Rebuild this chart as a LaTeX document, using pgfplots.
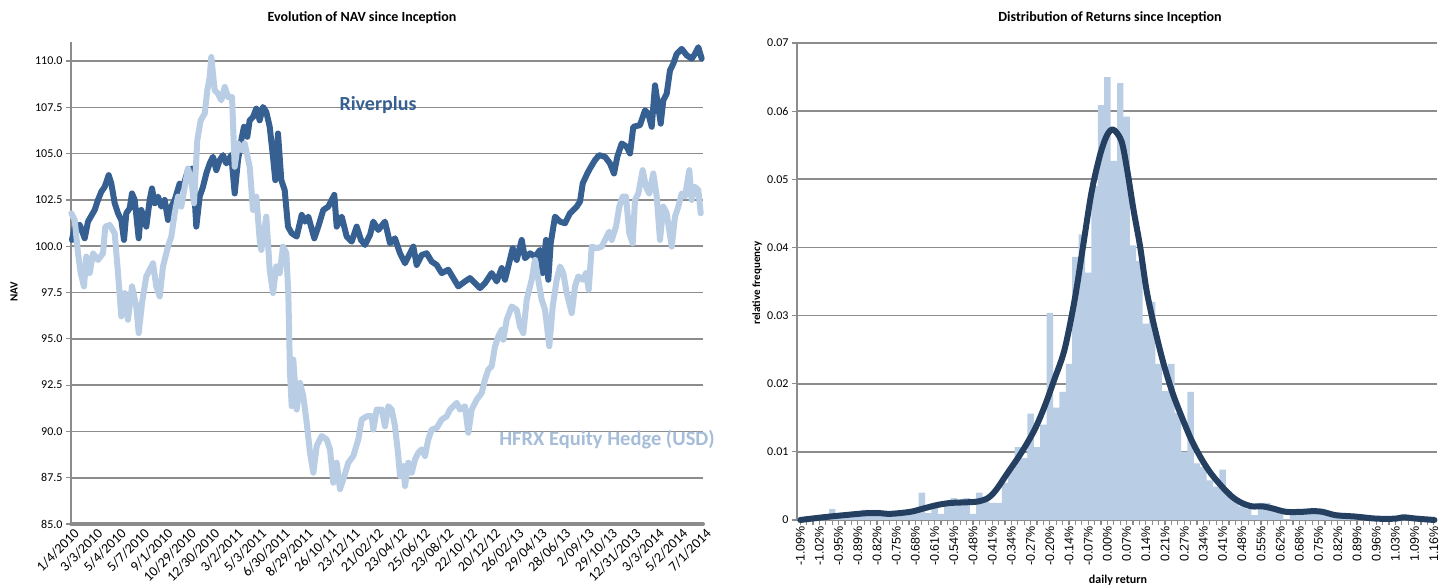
\documentclass[border=0pt]{standalone}
\usepackage{fontspec}
\setmainfont{Carlito}
\newfontfamily\arialf{Liberation Sans}
\usepackage{pgfplots}
\pgfplotsset{compat=1.18}
\definecolor{river}{HTML}{376092}
\definecolor{hfrx}{HTML}{B9CDE5}
\definecolor{curvec}{HTML}{243F60}
\definecolor{gridc}{HTML}{8C8C8C}

\pgfplotstableread{
x y
1 100.34
3.7 101.06
8.7 101.15
13.7 100.43
17 101.33
23.7 101.96
27 102.50
30.3 102.94
33.7 103.21
37.7 103.84
40.3 103.39
43.7 102.32
47 101.78
50.3 101.42
53 100.34
55.3 101.78
58.7 102.05
61 102.85
63.7 102.50
67.7 100.43
70.3 101.96
75.3 101.06
78.7 102.50
81 103.12
83.7 102.32
87 102.68
90.3 102.14
93.7 102.50
97 101.42
100.3 102.14
103.7 102.50
108.7 103.39
112 103.21
117 104.11
122 104.20
125.3 101.06
128.7 102.68
132 103.21
135.3 103.93
138.7 104.47
142 104.83
145.3 104.11
148.7 104.65
152 104.92
155.3 104.47
160.3 104.92
163.7 102.85
167 104.65
170.3 105.73
173 106.45
176.3 105.91
178.7 106.80
182 106.98
185.3 107.43
188.7 106.80
192 107.52
195.3 107.25
198.7 106.45
202 104.83
204.3 103.57
207 106.09
210.3 103.57
213.7 103.03
217 101.06
220.7 100.70
225.7 100.52
230.7 101.69
234 101.33
237.3 101.60
243.3 100.43
247.3 101.06
252.3 101.96
257.3 102.14
263.3 102.77
265.7 101.06
270.7 101.60
275.7 100.52
280.7 100.25
285.7 101.06
290 100.34
294 100.07
299 100.61
302.3 101.33
307.3 100.88
314 101.33
319 100.16
324 100.43
329 99.62
334 99.08
339 99.62
342.3 99.98
345.7 98.99
350.7 99.53
355.7 99.62
360.7 99.17
365.7 98.99
370.7 98.55
377.3 98.73
382.3 98.28
387.3 97.83
394 98.10
399 98.28
404 98.01
409 97.74
414 98.01
420.7 98.55
425.7 98.10
430.7 98.82
434 98.19
437.3 98.91
441.7 99.89
445.7 99.26
450.7 100.34
454 99.35
459 99.62
464 99.44
469 99.80
471.7 98.55
475 100.34
477.3 98.19
479.7 100.16
484 101.60
489 101.33
494 101.24
499 101.78
505.7 102.14
509 102.41
511.7 103.39
516.3 103.93
519 104.20
524 104.65
528 104.92
534 104.83
539 104.47
543 103.93
546.3 104.83
550.7 105.55
555.7 105.37
559 105.01
562.3 106.45
569 106.54
574 107.34
577.3 107.16
580.7 106.45
584 108.69
587.3 107.52
589.7 106.62
592.3 107.88
595.7 108.24
599 109.50
602.3 109.86
605.7 110.39
610.7 110.66
615.7 110.31
620.7 110.13
624 110.39
627.3 110.75
630.7 110.13
}\riverdata

\pgfplotstableread{
x y
0.3 101.78
3.7 101.42
7 99.62
9.7 98.55
13 97.83
15.3 99.44
18.7 98.55
22 99.62
27 99.26
32 99.62
34.3 101.06
38.7 101.15
43.7 100.70
47 98.55
50.3 96.21
53.7 97.47
57 96.03
61 97.83
65.3 96.75
67.7 95.31
71 96.93
75.3 98.37
78.7 98.73
82 99.08
85.3 97.83
88.7 97.29
92 98.91
97 99.98
100.3 100.52
103.7 101.78
107 102.68
110.3 102.14
113.7 103.21
117 104.20
120.3 103.57
123 102.32
126.3 105.73
129.7 106.80
133.7 107.16
136.3 108.42
138.7 109.14
140.3 110.22
143.7 108.42
147 108.24
150.3 107.88
153.7 108.60
157 108.06
161 108.06
163.7 104.29
167 105.55
170.3 105.19
173.7 105.55
178.7 104.29
182 101.96
185.3 102.68
188.7 100.34
190.3 99.80
195.3 101.60
198.7 98.73
202 97.47
205.3 98.91
208.7 98.55
212 99.98
215.3 99.62
217.3 97.50
219 93.16
220.7 91.36
222.3 93.88
225.7 91.18
229 92.62
232.3 91.90
235.7 90.46
239 88.85
242.3 87.77
245.7 89.21
250.7 89.75
255.7 89.57
259 89.03
262.3 87.23
265.7 88.31
269 86.88
272.3 87.41
277.3 88.31
282.3 88.67
287.3 89.57
290.7 90.64
295.7 90.82
300.7 90.82
302.3 90.10
305.7 91.18
310.7 91.18
314 90.28
317.3 91.36
320.7 91.18
324 90.28
327.3 88.67
329 87.59
332.3 88.13
334 87.05
337.3 88.31
340.7 87.77
344 88.49
347.3 88.85
350.7 89.03
354 88.67
357.3 89.57
360.7 90.10
365.7 90.19
370.7 90.64
375.7 90.82
379 91.18
382.3 91.36
385.7 91.54
389 91.18
394 91.36
397.3 89.93
400.7 91.18
405.7 91.72
410.7 92.08
414 92.80
417.3 93.34
420.7 93.52
424 94.60
427.3 95.13
430.7 95.49
432.3 94.95
435.7 96.03
440.7 96.75
445.7 96.57
449 95.67
452.3 95.31
455.7 97.11
460.7 98.19
464 99.26
467.3 98.19
470.7 97.11
474 96.57
478.3 94.60
481.7 96.75
485.7 98.19
489 98.91
492.3 98.55
495.7 97.47
500.7 96.39
504 97.83
507.3 98.37
511.7 98.19
515 98.55
517.7 97.65
520.7 99.98
525.7 99.89
530.7 99.98
535.7 100.52
538.3 100.79
540.7 100.34
545 101.06
548.3 102.14
551.7 102.68
555 102.68
558.3 100.70
561.7 100.16
564 102.50
567.3 102.85
571.7 104.11
575 103.21
578.3 102.85
582.3 103.93
585.7 102.68
589 100.34
592.3 102.14
595.7 101.78
600.7 99.98
604 101.60
607.3 102.14
610.7 102.85
614 102.68
618.3 104.11
620.7 102.50
624 103.21
627.3 103.03
629.7 101.78
}\hfrxdata

\pgfplotstableread{
x y
0 0.0002
1 0.0003
2 0.0005
3 0.0007
4 0.0008
5 0.0016
6 0.0008
7 0.0008
8 0.0010
9 0.0010
10 0.0015
11 0.0015
12 0.0015
13 0.0010
14 0.0005
15 0.0010
16 0.0012
17 0.0012
18 0.0015
19 0.0040
20 0.0010
21 0.0024
22 0.0009
23 0.0025
24 0.0032
25 0.0030
26 0.0032
27 0.0009
28 0.0040
29 0.0027
30 0.0025
31 0.0025
32 0.0055
33 0.0075
34 0.0107
35 0.0091
36 0.0156
37 0.0107
38 0.0140
39 0.0304
40 0.0165
41 0.0188
42 0.0229
43 0.0386
44 0.0419
45 0.0363
46 0.0490
47 0.0609
48 0.0650
49 0.0527
50 0.0641
51 0.0592
52 0.0403
53 0.0380
54 0.0288
55 0.0320
56 0.0229
57 0.0189
58 0.0229
59 0.0157
60 0.0100
61 0.0188
62 0.0083
63 0.0078
64 0.0058
65 0.0049
66 0.0074
67 0.0042
68 0.0030
69 0.0020
70 0.0017
71 0.0007
72 0.0025
73 0.0025
74 0.0017
75 0.0017
76 0.0001
77 0.0010
78 0.0010
79 0.0015
80 0.0015
81 0.0012
82 0.0010
83 0.0005
84 0.0005
85 0.0005
86 0.0004
87 0.0004
88 0.0003
89 0.0003
90 0.0002
91 0.0002
92 0.0002
93 0.0002
94 0.0007
95 0.0002
96 0.0002
97 0.0002
98 0.0001
99 0.0001
}\histdata

\pgfplotstableread{
x y
0 0
3.6 0.0004
6.8 0.0007
10.4 0.0010
12.5 0.0010
14.1 0.0009
17.2 0.0012
19.3 0.0017
21.4 0.0022
23.5 0.0025
26.1 0.0026
27.7 0.0027
29.3 0.0032
30.6 0.0044
32.4 0.0069
34.5 0.0098
36.6 0.0132
38.2 0.0167
39.7 0.0206
41.3 0.0250
42.9 0.0324
44.2 0.0402
45.5 0.0480
46.8 0.0534
47.9 0.0564
48.9 0.0573
50.2 0.0556
51.1 0.0513
52.1 0.0454
53.1 0.0402
54.1 0.0338
55.2 0.0289
56.7 0.0232
58.2 0.0186
59.8 0.0147
61.2 0.0116
62.8 0.0088
64.2 0.0068
65.9 0.0049
67.5 0.0034
69.0 0.0025
70.6 0.0020
72.2 0.0020
73.8 0.0017
75.9 0.0012
78.5 0.0012
80.0 0.0013
81.6 0.0012
83.7 0.0007
86.8 0.0005
90.0 0.0002
93.1 0.0002
94.2 0.0004
96.3 0.0002
99.1 0
}\curvedata

\begin{document}
\begin{tikzpicture}[x=1pt,y=1pt]
\path[use as bounding box] (0,0) rectangle (1443,588);

% ---------------- left chart ----------------
\begin{axis}[
  at={(71pt,64pt)}, anchor=south west, scale only axis,
  width=632pt, height=482pt,
  xmin=0, xmax=632, ymin=85, ymax=111.03,
  separate axis lines,
  axis x line*=bottom, axis y line*=left,
  x axis line style={-, draw=gridc, line width=4pt, line cap=round},
  y axis line style={-, draw=gridc, line width=1.5pt},
  ymajorgrids, grid style={draw=gridc, line width=1.6pt},
  ytick={85,87.5,90,92.5,95,97.5,100,102.5,105,107.5,110},
  yticklabels={85.0,87.5,90.0,92.5,95.0,97.5,100.0,102.5,105.0,107.5,110.0},
  ytick style={draw=gridc, line width=1.2pt},
  ytick align=outside, major tick length=5pt,
  xtick={0,23.4,46.8,70.2,93.6,117,140.4,163.8,187.2,210.6,234,257.4,280.8,304.2,327.6,351,374.4,397.8,421.2,444.6,468,491.4,514.8,538.2,561.6,585,608.4,631.8},
  xticklabels={1/4/2010,3/3/2010,5/4/2010,5/7/2010,9/1/2010,10/29/2010,12/30/2010,3/2/2011,5/3/2011,6/30/2011,8/29/2011,26/10/11,23/12/11,21/02/12,23/04/12,25/06/12,23/08/12,22/10/12,20/12/12,26/02/13,29/04/13,28/06/13,2/09/13,29/10/13,12/31/2013,3/3/2014,5/2/2014,7/1/2014},
  xtick style={draw=none},
  xticklabel style={rotate=45, anchor=north east, font=\fontsize{14}{15}\selectfont, inner sep=1pt, yshift=-3pt},
  yticklabel style={font=\fontsize{12}{13}\selectfont},
  clip=false,
]
\addplot[river, line width=6pt, line join=round, line cap=round] table[x=x,y=y] {\riverdata};
\addplot[hfrx, line width=6pt, line join=round, line cap=round] table[x=x,y=y] {\hfrxdata};
\end{axis}

% ---------------- right chart ----------------
\begin{axis}[
  at={(797pt,68pt)}, anchor=south west, scale only axis,
  width=640pt, height=477pt,
  xmin=-0.5, xmax=99.5, ymin=0, ymax=0.07,
  scaled y ticks=false,
  separate axis lines,
  axis x line*=bottom, axis y line*=left,
  x axis line style={-, draw=gridc, line width=2pt},
  y axis line style={-, draw=gridc, line width=1.5pt},
  ymajorgrids, grid style={draw=gridc, line width=1.6pt},
  ytick={0,0.01,0.02,0.03,0.04,0.05,0.06,0.07},
  yticklabels={0,0.01,0.02,0.03,0.04,0.05,0.06,0.07},
  yticklabel style={font=\fontsize{12}{13}\selectfont},
  xtick align=outside, ytick align=outside,
  major tick length=5pt, minor tick length=5pt,
  tick style={draw=gridc, line width=1.2pt},
  minor tick style={draw=gridc, line width=1.2pt},
  xtick={0,3,...,99},
  minor xtick={0,1,...,99},
  xticklabels={-1.09\%,-1.02\%,-0.95\%,-0.89\%,-0.82\%,-0.75\%,-0.68\%,-0.61\%,-0.54\%,-0.48\%,-0.41\%,-0.34\%,-0.27\%,-0.20\%,-0.14\%,-0.07\%,0.00\%,0.07\%,0.14\%,0.21\%,0.27\%,0.34\%,0.41\%,0.48\%,0.55\%,0.62\%,0.68\%,0.75\%,0.82\%,0.89\%,0.96\%,1.03\%,1.09\%,1.16\%},
  xticklabel style={rotate=90, anchor=east, font=\arialf\fontsize{12.5}{13}\selectfont, inner sep=1pt},
  clip=false,
]
\addplot[ybar, bar width=1, bar shift=0pt, fill=hfrx, draw=none] table[x=x,y=y] {\histdata};
\addplot[curvec, line width=6pt, smooth, line cap=round, line join=round] table[x=x,y=y] {\curvedata};
\end{axis}

% ---------------- texts ----------------
\node[font=\bfseries\fontsize{14}{16}\selectfont] at (362,570) {Evolution of NAV since Inception};
\node[font=\bfseries\fontsize{14}{16}\selectfont] at (1110,570) {Distribution of Returns since Inception};
\node[font=\bfseries\fontsize{11}{12}\selectfont, rotate=90] at (14,296) {NAV};
\node[font=\bfseries\fontsize{11}{12}\selectfont, rotate=90] at (757,305) {relative frequency};
\node[font=\bfseries\fontsize{12}{13}\selectfont] at (1118,8) {daily return};
\node[font=\bfseries\fontsize{20}{22}\selectfont, text=river] at (378,483) {Riverplus};
\node[font=\bfseries\fontsize{20.5}{22}\selectfont, text=hfrx!85!river] at (607,148) {HFRX Equity Hedge (USD)};
\end{tikzpicture}
\end{document}
